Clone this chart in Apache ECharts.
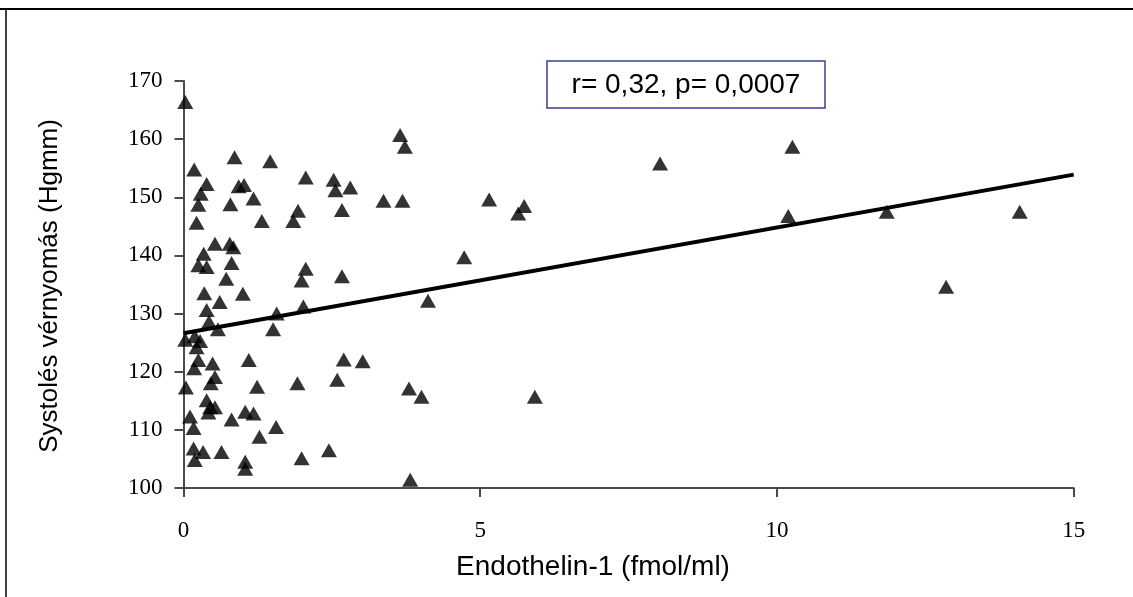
<!DOCTYPE html>
<html>
<head>
<meta charset="utf-8">
<script src="https://cdn.jsdelivr.net/npm/echarts@6/dist/echarts.min.js"></script>
<style>
  html, body { margin: 0; padding: 0; background: #ffffff; }
  #chart { width: 1133px; height: 597px; }
</style>
</head>
<body>
<div id="chart"></div>
<script>
// Endothelin-1 (fmol/ml) vs. systolic blood pressure (Hgmm)
const endothelin = [
  0.03, 0.18, 0.86, 1.46, 0.39, 0.29, 0.25, 0.93, 1.02, 0.79,
  1.18, 1.32, 0.22, 1.85, 1.93, 2.06, 2.53, 2.56, 2.81, 2.67,
  0.53, 0.34, 0.25, 0.39, 0.78, 0.84, 0.81, 0.72, 2.06, 1.99,
  2.67, 0.35, 0.61, 1.00, 0.39, 0.43, 0.58, 0.03, 0.19, 0.28,
  0.22, 1.51, 1.57, 2.02, 1.10, 0.25, 0.18, 0.49, 0.53, 0.46,
  0.04, 1.24, 1.92, 2.59, 2.70, 3.02, 0.39, 0.45, 0.42, 0.53,
  0.11, 0.17, 0.81, 1.04, 1.18, 1.28, 1.56, 0.17, 0.19, 0.33,
  0.64, 1.04, 1.04, 1.99, 2.45, 3.82, 3.65, 3.73, 3.37, 3.69,
  5.15, 5.74, 5.64, 4.73, 4.12, 3.80, 4.01, 5.92, 8.03, 10.26,
  10.19, 11.85, 14.09, 12.85
];
const systolic = [
  166.4, 154.8, 156.9, 156.2, 152.3, 150.6, 148.7, 151.9, 152.1, 148.8,
  149.8, 145.9, 145.6, 145.9, 147.7, 153.4, 153.0, 151.2, 151.7, 147.8,
  142.0, 140.3, 138.3, 138.0, 142.0, 141.4, 138.7, 136.0, 137.7, 135.7,
  136.4, 133.5, 132.0, 133.4, 130.6, 128.6, 127.3, 125.5, 126.1, 125.3,
  124.2, 127.3, 130.0, 131.2, 122.0, 122.0, 120.6, 121.4, 119.1, 118.0,
  117.3, 117.4, 118.0, 118.6, 122.1, 121.8, 115.1, 113.9, 113.0, 113.9,
  112.3, 110.3, 111.8, 113.1, 112.8, 108.8, 110.5, 106.8, 104.8, 106.2,
  106.2, 104.5, 103.3, 105.1, 106.5, 101.4, 160.7, 158.7, 149.4, 149.4,
  149.6, 148.5, 147.2, 139.7, 132.2, 117.1, 115.7, 115.7, 155.8, 158.7,
  146.8, 147.5, 147.5, 134.6
];

// Linear regression line end points
const trendX = [0, 15];
const trendY = [126.6, 153.9];

// Axis tick values
const xTicks = [0, 5, 10, 15];
const yTicks = [100, 110, 120, 130, 140, 150, 160, 170];

const statText = 'r= 0,32, p= 0,0007';
const xTitle = 'Endothelin-1 (fmol/ml)';
const yTitle = 'Systolés vérnyomás (Hgmm)';

const points = endothelin.map((x, i) => [x, systolic[i]]);
const trend = trendX.map((x, i) => [x, trendY[i]]);

const axisColor = '#4a4a4a';
const serif = '"Liberation Serif", "Times New Roman", serif';
const sans = '"Liberation Sans", Arial, sans-serif';

const chart = echarts.init(document.getElementById('chart'), null, { renderer: 'canvas' });
chart.setOption({
  animation: false,
  backgroundColor: '#ffffff',
  grid: { left: 183.5, right: 59.3, top: 81, bottom: 109, containLabel: false },
  xAxis: {
    type: 'value',
    min: xTicks[0],
    max: xTicks[xTicks.length - 1],
    interval: xTicks[1] - xTicks[0],
    splitLine: { show: false },
    axisLine: { show: true, onZero: false, lineStyle: { color: axisColor, width: 2 } },
    axisTick: { show: true, inside: false, length: 9, lineStyle: { color: axisColor, width: 2 } },
    axisLabel: { color: '#000', fontFamily: serif, fontSize: 23, margin: 31 }
  },
  yAxis: {
    type: 'value',
    min: yTicks[0],
    max: yTicks[yTicks.length - 1],
    interval: yTicks[1] - yTicks[0],
    splitLine: { show: false },
    axisLine: { show: true, onZero: false, lineStyle: { color: axisColor, width: 2 } },
    axisTick: { show: true, inside: false, length: 9, lineStyle: { color: axisColor, width: 2 } },
    axisLabel: { color: '#000', fontFamily: serif, fontSize: 23, margin: 21 }
  },
  series: [
    {
      type: 'line',
      data: trend,
      showSymbol: false,
      symbol: 'none',
      lineStyle: { color: '#000', width: 4 },
      z: 2
    },
    {
      type: 'scatter',
      data: points,
      symbol: 'triangle',
      symbolSize: [16, 14],
      itemStyle: { color: '#000' },
      z: 3
    }
  ],
  graphic: [
    // frame edges
    { type: 'line', shape: { x1: 0, y1: 9, x2: 1133, y2: 9 }, style: { stroke: '#000', lineWidth: 2 } },
    { type: 'line', shape: { x1: 6, y1: 9, x2: 6, y2: 597 }, style: { stroke: '#000', lineWidth: 1.5 } },
    // statistics box
    {
      type: 'rect',
      shape: { x: 547, y: 61, width: 278, height: 47 },
      style: { fill: '#ffffff', stroke: '#3d3d99', lineWidth: 1.5 },
      z: 10
    },
    {
      type: 'text',
      x: 686, y: 85,
      style: { text: statText, fill: '#000', font: '28px ' + sans, align: 'center', verticalAlign: 'middle' },
      z: 11
    },
    // axis titles
    {
      type: 'text',
      x: 593, y: 567,
      style: { text: xTitle, fill: '#000', font: '28px ' + sans, align: 'center', verticalAlign: 'middle' }
    },
    {
      type: 'text',
      x: 50, y: 286,
      rotation: Math.PI / 2,
      style: { text: yTitle, fill: '#000', font: '26px ' + sans, align: 'center', verticalAlign: 'middle' }
    }
  ]
});
</script>
</body>
</html>
